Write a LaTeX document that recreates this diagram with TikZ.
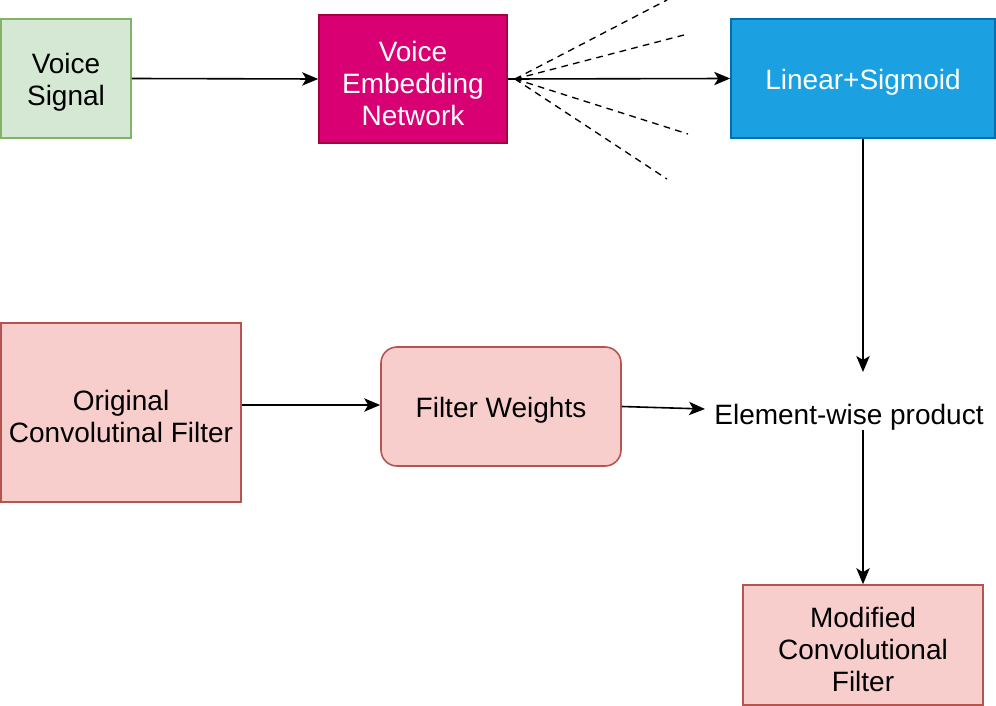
\documentclass[tikz,border=0pt]{standalone}
\usepackage{fontspec}
\setmainfont{Liberation Sans}
\usetikzlibrary{arrows.meta}
\definecolor{vsfill}{HTML}{D5E8D4}
\definecolor{vsdraw}{HTML}{82B366}
\definecolor{vefill}{HTML}{D80073}
\definecolor{vedraw}{HTML}{A50040}
\definecolor{lsfill}{HTML}{1BA1E2}
\definecolor{lsdraw}{HTML}{006EAF}
\definecolor{rfill}{HTML}{F8CECC}
\definecolor{rdraw}{HTML}{B85450}
\tikzset{
  box/.style={draw, line width=1.2pt, inner sep=0pt},
  txt/.style={align=center, inner sep=0pt, yshift=-3pt, font=\fontsize{21}{24}\selectfont},
  conn/.style={line width=1.2pt, -{Stealth[length=12pt,width=10pt,inset=3pt]}},
  dashln/.style={line width=1pt, dashed, dash pattern=on 5pt off 4pt}
}
\begin{document}
\begin{tikzpicture}[x=0.75pt,y=-0.75pt]
\useasboundingbox (0,0) rectangle (996,706);
\node[box, fill=vsfill, draw=vsdraw, minimum width=130*0.75pt, minimum height=119*0.75pt,
  label={[txt]center:Voice\\Signal}] (vs) at (66,78.5) {};
\node[box, fill=vefill, draw=vedraw, minimum width=188*0.75pt, minimum height=128*0.75pt,
  label={[txt, text=white]center:Voice\\Embedding\\Network}] (ve) at (413,79) {};
\node[box, fill=lsfill, draw=lsdraw, minimum width=264*0.75pt, minimum height=119*0.75pt,
  label={[txt, text=white]center:Linear+Sigmoid}] (ls) at (863,78.5) {};
\node[box, fill=rfill, draw=rdraw, minimum width=240*0.75pt, minimum height=179*0.75pt,
  label={[txt]center:Original\\Convolutinal Filter}] (of) at (121,412.5) {};
\node[box, fill=rfill, draw=rdraw, rounded corners=12pt, minimum width=240*0.75pt, minimum height=119*0.75pt,
  label={[txt]center:Filter Weights}] (fw) at (501,406.5) {};
\node[txt] (ep) at (849,413) {Element-wise product};
\node[box, fill=rfill, draw=rdraw, minimum width=240*0.75pt, minimum height=120*0.75pt,
  label={[txt]center:Modified\\Convolutional\\Filter}] (mf) at (863,645) {};
\coordinate (ds) at (515,79);
\coordinate (d1) at (667,0);
\coordinate (d2) at (684,35);
\coordinate (d3) at (688,134);
\coordinate (d4) at (667,179);
\coordinate (epin) at (705,409);
\coordinate (eptop) at (863,372);
\coordinate (epbot) at (863,430);
\draw[dashln] (ds) -- (d1);
\draw[dashln] (ds) -- (d2);
\draw[dashln] (ds) -- (d3);
\draw[dashln] (ds) -- (d4);
\draw[conn] (vs.east) -- (ve.west);
\draw[conn] (ve.east) -- (ls.west);
\draw[conn] (ls.south) -- (eptop);
\draw[conn] (of.east |- 0,405) -- (fw.west |- 0,405);
\draw[conn] (fw.east) -- (epin);
\draw[conn] (epbot) -- (mf.north);
\end{tikzpicture}
\end{document}
